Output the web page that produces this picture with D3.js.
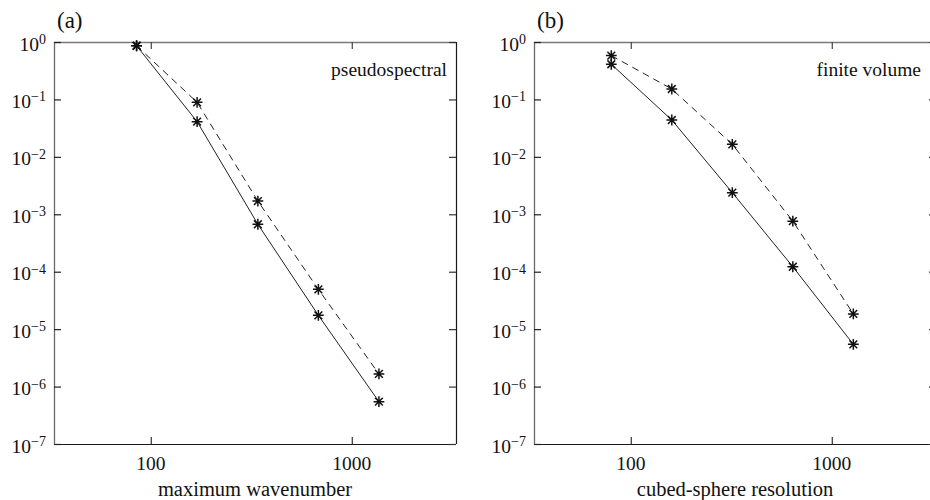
<!DOCTYPE html>
<html>
<head>
<meta charset="utf-8">
<script src="https://cdn.jsdelivr.net/npm/d3@7"></script>
</head>
<body style="margin:0">
<svg id="chart" width="930" height="500"></svg>
<script>
// Convergence data: error vs. resolution
const wavenumbers    = [85, 170, 341, 682, 1365];
const spectralSolid  = [0.86, 0.041, 6.7e-4, 1.74e-5, 5.46e-7];
const spectralDashed = [0.86, 0.089, 1.70e-3, 4.93e-5, 1.66e-6];

const resolutions = [80, 160, 320, 640, 1280];
const fvSolid     = [0.41, 0.0438, 2.38e-3, 1.22e-4, 5.44e-6];
const fvDashed    = [0.58, 0.152, 0.0165, 7.6e-4, 1.84e-5];

const yTickExponents = [0, -1, -2, -3, -4, -5, -6, -7];
const xTickValues    = [100, 1000];

const panels = [
  { tag: "(a)", label: "pseudospectral", xTitle: "maximum wavenumber",
    x: wavenumbers, solid: spectralSolid, dashed: spectralDashed, left: 54, labelInset: 9 },
  { tag: "(b)", label: "finite volume", xTitle: "cubed-sphere resolution",
    x: resolutions, solid: fvSolid, dashed: fvDashed, left: 534, labelInset: 15 }
];

const svg = d3.select("#chart").style("font-family", '"Liberation Serif"');
const plotW = 402, plotTop = 42, plotBottom = 444, tickLen = 7;
const minus = "\u2212";

const y = d3.scaleLog().domain([1e-7, 1]).range([plotBottom, plotTop]);

function addText(parent, str, size) {
  return parent.append("text")
    .style("font-family", '"Liberation Serif"')
    .attr("font-size", size)
    .attr("fill", "#111")
    .text(str);
}

function asterisk(g, cx, cy) {
  const r = 5.4, d = r * 0.72;
  const p = `M${cx - r},${cy}L${cx + r},${cy}M${cx},${cy - r}L${cx},${cy + r}` +
            `M${cx - d},${cy - d}L${cx + d},${cy + d}M${cx - d},${cy + d}L${cx + d},${cy - d}`;
  g.append("path").attr("d", p).attr("stroke", "#111").attr("stroke-width", 1.5).attr("fill", "none");
}

panels.forEach(p => {
  const x = d3.scaleLog().domain([33, 3300]).range([p.left, p.left + plotW]);
  const g = svg.append("g");

  // frame
  g.append("line").attr("x1", p.left).attr("x2", p.left + plotW).attr("y1", plotTop + 0.5).attr("y2", plotTop + 0.5)
    .attr("stroke", "#7a7a7a").attr("stroke-width", 1.3);
  g.append("line").attr("x1", p.left + 0.5).attr("x2", p.left + 0.5).attr("y1", plotTop).attr("y2", plotBottom)
    .attr("stroke", "#6a6a6a").attr("stroke-width", 1.3);
  g.append("line").attr("x1", p.left).attr("x2", p.left + plotW).attr("y1", plotBottom + 0.5).attr("y2", plotBottom + 0.5)
    .attr("stroke", "#1a1a1a").attr("stroke-width", 1.2);
  g.append("line").attr("x1", p.left + plotW + 0.5).attr("x2", p.left + plotW + 0.5).attr("y1", plotTop).attr("y2", plotBottom)
    .attr("stroke", "#1a1a1a").attr("stroke-width", 1.2);

  // bottom axis: inward ticks, labels drawn separately
  const gx = g.append("g").attr("transform", `translate(0,${plotBottom})`)
    .call(d3.axisBottom(x).tickValues(xTickValues).tickFormat("").tickSizeInner(-tickLen).tickSizeOuter(0));
  gx.select(".domain").remove();
  gx.selectAll(".tick line").attr("stroke", "#333").attr("stroke-width", 1.2);
  xTickValues.forEach(v => {
    addText(g, d3.format("d")(v), 19.5)
      .attr("x", x(v)).attr("y", plotBottom + 26).attr("text-anchor", "middle");
  });

  // top axis ticks
  const gxt = g.append("g").attr("transform", `translate(0,${plotTop})`)
    .call(d3.axisTop(x).tickValues(xTickValues).tickFormat("").tickSizeInner(-tickLen).tickSizeOuter(0));
  gxt.select(".domain").remove();
  gxt.selectAll(".tick line").attr("stroke", "#444").attr("stroke-width", 1.2);

  // left axis ticks with power-of-ten labels
  const yTicks = yTickExponents.map(e => Math.pow(10, e));
  const gy = g.append("g").attr("transform", `translate(${p.left},0)`)
    .call(d3.axisLeft(y).tickValues(yTicks).tickFormat("").tickSizeInner(-tickLen).tickSizeOuter(0));
  gy.select(".domain").remove();
  gy.selectAll(".tick line").attr("stroke", "#222").attr("stroke-width", 1.2);
  yTickExponents.forEach(e => {
    const ty = y(Math.pow(10, e));
    const t = addText(g, null, 19.5)
      .attr("x", p.left - 8).attr("y", ty + 8.5).attr("text-anchor", "end");
    t.append("tspan").text("10");
    t.append("tspan").attr("font-size", 14).attr("dy", -6.5)
      .text(e === 0 ? "0" : minus + Math.abs(e));
  });

  // right axis ticks
  const gyr = g.append("g").attr("transform", `translate(${p.left + plotW},0)`)
    .call(d3.axisRight(y).tickValues(yTicks).tickFormat("").tickSizeInner(-tickLen).tickSizeOuter(0));
  gyr.select(".domain").remove();
  gyr.selectAll(".tick line").attr("stroke", "#333").attr("stroke-width", 1.2);

  // series
  const line = d3.line().x(d => x(d[0])).y(d => y(d[1]));
  const solidPts = p.x.map((v, i) => [v, p.solid[i]]);
  const dashedPts = p.x.map((v, i) => [v, p.dashed[i]]);

  g.append("path").attr("d", line(dashedPts)).attr("fill", "none")
    .attr("stroke", "#222").attr("stroke-width", 1).attr("stroke-dasharray", "7,5");
  g.append("path").attr("d", line(solidPts)).attr("fill", "none")
    .attr("stroke", "#222").attr("stroke-width", 1);

  const mk = g.append("g");
  dashedPts.concat(solidPts).forEach(d => asterisk(mk, x(d[0]), y(d[1])));

  // labels
  addText(g, p.tag, 23).attr("x", p.left + 3).attr("y", 28);
  addText(g, p.label, 19.5).attr("x", p.left + plotW - p.labelInset).attr("y", 76).attr("text-anchor", "end");
  addText(g, p.xTitle, 20.5).attr("x", p.left + plotW / 2).attr("y", 496).attr("text-anchor", "middle");
});
</script>
</body>
</html>
